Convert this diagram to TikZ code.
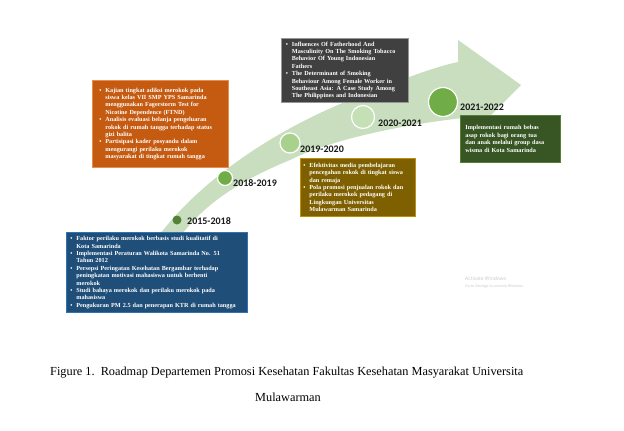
\documentclass[tikz,border=0pt]{standalone}
\usepackage{fontspec}
\setmainfont{Liberation Serif}
\newfontfamily\yearfont{Carlito}
\newfontfamily\winfont{Open Sans}

\definecolor{band}{RGB}{200,222,190}
\definecolor{bluefill}{RGB}{31,78,121}
\definecolor{blueedge}{RGB}{46,117,182}
\definecolor{orangefill}{RGB}{197,90,17}
\definecolor{orangeedge}{RGB}{232,140,80}
\definecolor{grayfill}{RGB}{64,64,64}
\definecolor{grayedge}{RGB}{150,150,150}
\definecolor{olivefill}{RGB}{127,96,0}
\definecolor{oliveedge}{RGB}{191,144,0}
\definecolor{greenfill}{RGB}{55,86,35}
\definecolor{greenedge}{RGB}{84,130,53}
\definecolor{dotA}{RGB}{84,130,53}
\definecolor{dotB}{RGB}{112,173,71}
\definecolor{dotC}{RGB}{169,209,142}
\definecolor{dotD}{RGB}{197,224,180}
\definecolor{wintext}{RGB}{200,200,200}

\newcommand{\itm}{\makebox[6pt][l]{\textbullet}}
\newcommand{\ind}{\hspace*{6pt}}

\tikzset{
  infobox/.style={draw, line width=0.8pt, anchor=north west, align=left,
    text=white, inner ysep=2pt,
    font=\bfseries\fontsize{6.2}{7.4}\selectfont},
  yearlabel/.style={anchor=west, inner sep=0pt, text={rgb,255:red,25;green,25;blue,25},
    font=\yearfont\bfseries\fontsize{10}{12}\selectfont},
  dot/.style={circle, draw=white, line width=1.2pt, inner sep=0pt}
}

\begin{document}
\begin{tikzpicture}[x=1pt,y=-1pt]
\useasboundingbox (0,0) rectangle (624,431);
\fill[white] (0,0) rectangle (624,431);

% curved timeline arrow
\fill[band] (125,300) .. controls (150,215) and (250,140) .. (350,100)
  .. controls (390,84) and (430,68) .. (458,62)
  -- (458,40) -- (521,85) -- (466,140) -- (463,118)
  .. controls (400,125) and (330,140) .. (290,160)
  .. controls (230,185) and (170,220) .. (152,300) -- cycle;

% milestones
\node[dot, fill=dotA, draw=none, minimum size=9pt] (c1) at (177,220) {};
\node[dot, fill=dotB, minimum size=15pt] (c2) at (225,178) {};
\node[dot, fill=dotC, minimum size=20pt] (c3) at (290,143) {};
\node[dot, fill=dotD, minimum size=23pt] (c4) at (363,117) {};
\node[dot, fill=dotB, minimum size=29pt] (c5) at (443,102) {};

\node[yearlabel] (y1) at (187,221) {2015-2018};
\node[yearlabel] (y2) at (233,183) {2018-2019};
\node[yearlabel] (y3) at (300,149) {2019-2020};
\node[yearlabel] (y4) at (378,123) {2020-2021};
\node[yearlabel] (y5) at (460,107) {2021-2022};

% research boxes
\node[infobox, fill=bluefill, draw=blueedge, inner xsep=4pt,
  text width=173pt, minimum height=80pt] (b1) at (66,232) {%
\itm\makebox[167pt][s]{Faktor perilaku merokok berbasis studi kualitatif di}\\
\ind Kota Samarinda\\
\itm Implementasi Peraturan Walikota Samarinda No. 51\\
\ind Tahun 2012\\
\itm Persepsi Peringatan Kesehatan Bergambar terhadap\\
\ind peningkatan motivasi mahasiswa untuk berhenti\\
\ind merokok\\
\itm Studi bahaya merokok dan perilaku merokok pada\\
\ind mahasiswa\\
\itm Pengukuran PM 2.5 dan penerapan KTR di rumah tangga};

\node[infobox, fill=orangefill, draw=orangeedge, inner xsep=7pt,
  text width=122pt, minimum height=87pt] (b2) at (92,80) {%
\itm Kajian tingkat adiksi merokok pada\\
\ind siswa kelas VII SMP YPS Samarinda\\
\ind menggunakan Fagerstorm Test for\\
\ind Nicotine Dependence (FTND)\\
\itm Analisis evaluasi belanja pengeluaran\\
\ind rokok di rumah tangga terhadap status\\
\ind gizi balita\\
\itm Partisipasi kader posyandu dalam\\
\ind mengurangi perilaku merokok\\
\ind masyarakat di tingkat rumah tangga};

\node[infobox, fill=olivefill, draw=oliveedge, inner xsep=3pt,
  text width=109pt, minimum height=58pt] (b3) at (300,158) {%
\itm Efektivitas media pembelajaran\\
\ind pencegahan rokok di tingkat siswa\\
\ind dan remaja\\
\itm Pola promosi penjualan rokok dan\\
\ind perilaku merokok pedagang di\\
\ind Lingkungan Universitas\\
\ind Mulawarman Samarinda};

\node[infobox, fill=grayfill, draw=grayedge, inner xsep=4.5pt,
  text width=118pt, minimum height=64pt] (b4) at (281,38) {%
\itm Influences Of Fatherhood And\\
\ind Masculinity On The Smoking Tobacco\\
\ind Behavior Of Young Indonesian\\
\ind Fathers\\
\itm The Determinant of Smoking\\
\ind Behaviour Among Female Worker in\\
\ind Southeast Asia: A Case Study Among\\
\ind The Philippines and Indonesian};

\node[infobox, fill=greenfill, draw=greenedge, inner xsep=5pt,
  text width=90pt, minimum height=47pt] (b5) at (460,115) {%
Implementasi rumah bebas\\
asap rokok bagi orang tua\\
dan anak melalui group dasa\\
wisma di Kota Samarinda};

% system watermark
\node[anchor=west, inner sep=0pt, text=wintext, font=\winfont\fontsize{5}{6}\selectfont] (w1) at (465,279) {Activate Windows};
\node[anchor=west, inner sep=0pt, text=wintext, font=\winfont\fontsize{3.6}{5}\selectfont] (w2) at (465,287) {Go to Settings to activate Windows.};

% caption
\node[anchor=west, inner sep=0pt, font=\fontsize{12.3}{14}\selectfont] (cap1) at (50,373)
  {Figure 1.\ \ Roadmap Departemen Promosi Kesehatan Fakultas Kesehatan Masyarakat Universita};
\node[inner sep=0pt, font=\fontsize{12.3}{14}\selectfont] (cap2) at (288,397) {Mulawarman};
\end{tikzpicture}
\end{document}
